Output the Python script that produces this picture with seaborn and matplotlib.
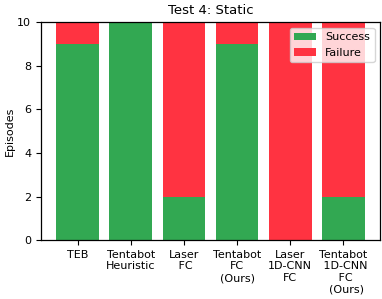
import matplotlib
matplotlib.use("Agg")
import matplotlib.pyplot as plt
import seaborn as sns
import pandas as pd

methods = ["TEB", "Tentabot\nHeuristic", "Laser\n FC", "Tentabot\nFC\n(Ours)",
           "Laser\n1D-CNN\nFC", "Tentabot\n 1D-CNN\n FC\n  (Ours)"]
success = [9, 10, 2, 9, 0, 2]
failure = [1, 0, 8, 1, 10, 8]

df = pd.DataFrame({"method": methods, "success": success, "failure": failure})
df["total"] = df["success"] + df["failure"]

sns.set_style("ticks", {"text.color": "black", "axes.labelcolor": "black",
                        "xtick.color": "black", "ytick.color": "black",
                        "axes.edgecolor": "black"})
plt.rcParams["font.family"] = ["DejaVu Sans"]
plt.rcParams["font.size"] = 8

fig, ax = plt.subplots(figsize=(3.82, 2.99), dpi=100)
sns.barplot(data=df, x="method", y="total", color="#ff3341", saturation=1,
            width=0.8, label="Failure", linewidth=0, ax=ax)
sns.barplot(data=df, x="method", y="success", color="#32a852", saturation=1,
            width=0.8, label="Success", linewidth=0, ax=ax)

handles, labels = ax.get_legend_handles_labels()
ax.legend(handles[::-1], labels[::-1], loc="upper right", fontsize=8)
ax.set_ylim(0, 10)
ax.set_xlim(-0.69, 5.69)
ax.set_xlabel("")
ax.set_ylabel("Episodes", fontsize=8, labelpad=1.5)
ax.set_title("Test 4: Static", fontsize=9.5)
ax.tick_params(labelsize=8)
for s in ax.spines.values():
    s.set_visible(True)
    s.set_linewidth(0.9)

fig.subplots_adjust(left=0.107, right=0.995, top=0.925, bottom=0.197)
fig.savefig("out.png", dpi=100)
